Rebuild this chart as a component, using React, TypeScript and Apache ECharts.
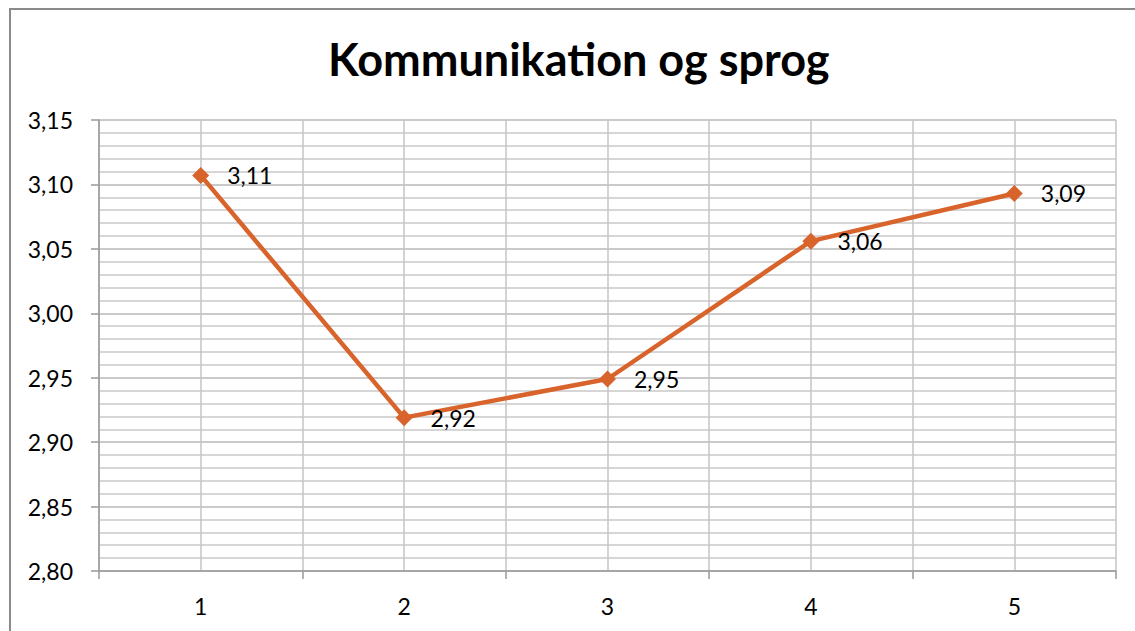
import React, { useEffect, useRef } from "react";
import * as echarts from "echarts";

const title = "Kommunikation og sprog";
const categories = ["1", "2", "3", "4", "5"];
const values = [3.107, 2.919, 2.949, 3.056, 3.093];
const yMin = 2.8;
const yMax = 3.15;
const yStep = 0.05;

const fmt = (v: number) => v.toFixed(2).replace(".", ",");

export default function App() {
  const ref = useRef<HTMLDivElement>(null);
  useEffect(() => {
    if (!ref.current) return;
    const chart = echarts.init(ref.current, null, { renderer: "svg" });
    const font = "Lato, 'Open Sans', sans-serif";
    chart.setOption({
      animation: false,
      backgroundColor: "#ffffff",
      textStyle: { fontFamily: font },
      title: {
        text: title,
        left: 323,
        top: 31,
        textStyle: { fontFamily: font, fontSize: 45, fontWeight: "bold", color: "#000" },
      },
      graphic: [
        {
          type: "rect",
          shape: { x: 10, y: 9, width: 1300, height: 800 },
          style: { fill: "none", stroke: "#8a8a8a", lineWidth: 2 },
          silent: true,
        },
      ],
      grid: { left: 99, top: 120, width: 1017, height: 451, containLabel: false },
      xAxis: [
        {
          type: "category",
          data: categories,
          boundaryGap: true,
          axisLine: { show: true, lineStyle: { color: "#9a9a9a", width: 1.5 } },
          axisTick: { show: true, length: 8, lineStyle: { color: "#9a9a9a", width: 1.5 } },
          axisLabel: { margin: 23, fontSize: 23, color: "#000", fontFamily: font },
          splitLine: { show: false },
        },
        {
          type: "value",
          min: 0.5,
          max: 5.5,
          interval: 0.5,
          position: "bottom",
          axisLine: { show: false },
          axisTick: { show: false },
          axisLabel: { show: false },
          splitLine: { show: true, lineStyle: { color: "#c4c4c4", width: 1.5 } },
        },
      ],
      yAxis: {
        type: "value",
        min: yMin,
        max: yMax,
        interval: yStep,
        axisLine: { show: true, lineStyle: { color: "#9a9a9a", width: 1.5 } },
        axisTick: { show: true, length: 8, lineStyle: { color: "#9a9a9a", width: 1.5 } },
        axisLabel: {
          margin: 26,
          fontSize: 23,
          color: "#000",
          fontFamily: font,
          formatter: (v: number) => fmt(v),
        },
        splitLine: { show: true, lineStyle: { color: "#b8b8b8", width: 1.5 } },
        minorTick: { show: false, splitNumber: 5 },
        minorSplitLine: { show: true, lineStyle: { color: "#c8c8c8", width: 1.5 } },
      },
      series: [
        {
          type: "line",
          xAxisIndex: 0,
          data: values,
          symbol: "diamond",
          symbolSize: 17,
          itemStyle: { color: "#D8632B" },
          lineStyle: { color: "#D8632B", width: 4.5 },
          label: {
            show: true,
            position: "right",
            distance: 18,
            fontSize: 23,
            color: "#000",
            fontFamily: font,
            formatter: (p: any) => fmt(p.value),
          },
        },
      ],
    });
    return () => chart.dispose();
  }, []);
  return (
    <div
      ref={ref}
      style={{ position: "absolute", left: 0, top: 0, width: 1135, height: 631 }}
    />
  );
}
